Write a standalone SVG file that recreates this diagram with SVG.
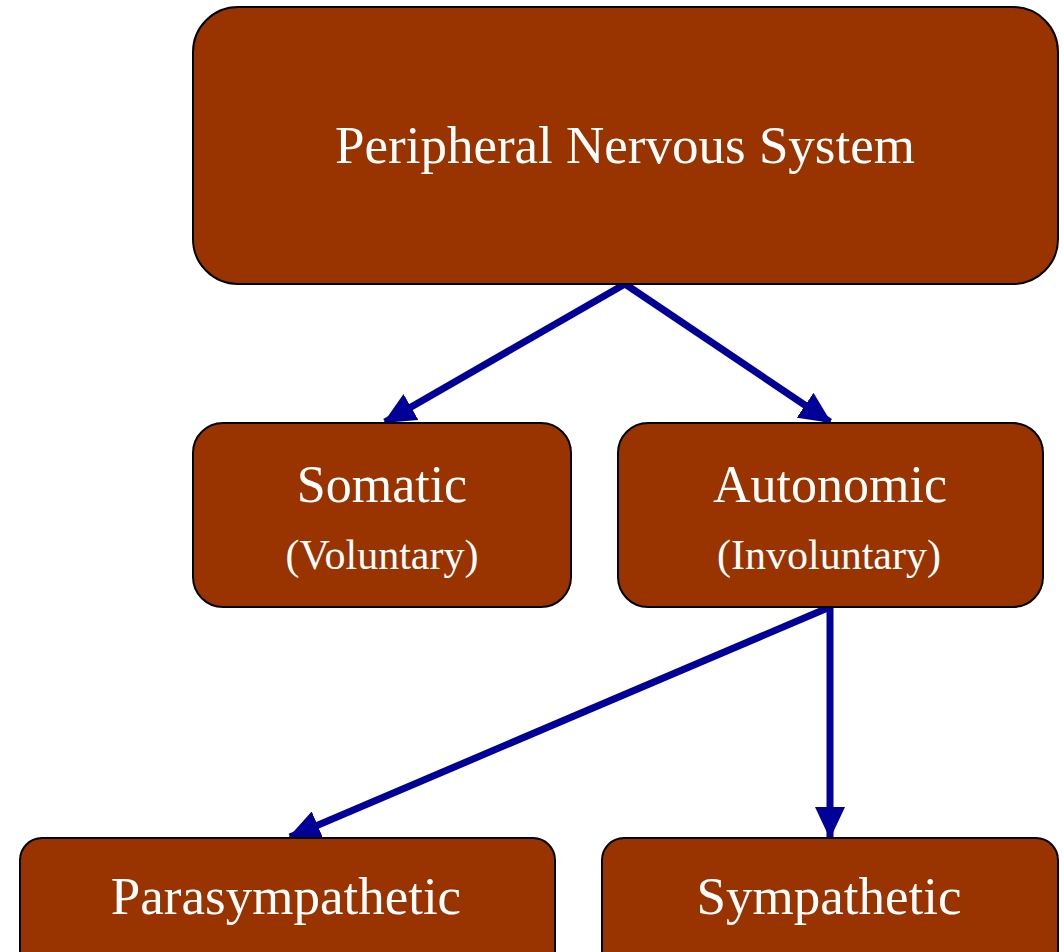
<svg xmlns="http://www.w3.org/2000/svg" width="1064" height="952" viewBox="0 0 1064 952">
<style>
.box{fill:#993300;stroke:#000;stroke-width:2}
.t{font-family:"Liberation Serif","Times New Roman",serif;fill:#fff;text-anchor:middle}
.c{stroke:#000099;stroke-width:7;fill:none}
</style>
<defs>
<marker id="ah" markerUnits="userSpaceOnUse" markerWidth="32" markerHeight="30" refX="30" refY="15" orient="auto">
<path d="M0,0 L32,15 L0,30 Z" fill="#000099"/>
</marker>
</defs>
<rect width="1064" height="952" fill="#fff"/>
<g id="connectors">
<line class="c" x1="625" y1="284" x2="385" y2="422" marker-end="url(#ah)"/>
<line class="c" x1="625" y1="284" x2="830" y2="422" marker-end="url(#ah)"/>
<line class="c" x1="830" y1="607" x2="290" y2="837" marker-end="url(#ah)"/>
<line class="c" x1="830" y1="607" x2="830" y2="837" marker-end="url(#ah)"/>
</g>
<g id="pns">
<rect class="box" x="193" y="7" width="865" height="277" rx="45" ry="45"/>
<text class="t" x="625" y="163" font-size="53">Peripheral Nervous System</text>
</g>
<g id="somatic">
<rect class="box" x="193" y="423" width="378" height="184" rx="30" ry="30"/>
<text class="t" x="382" y="502" font-size="52">Somatic</text>
<text class="t" x="382" y="569" font-size="42">(Voluntary)</text>
</g>
<g id="autonomic">
<rect class="box" x="618" y="423" width="425" height="184" rx="30" ry="30"/>
<text class="t" x="830" y="502" font-size="52">Autonomic</text>
<text class="t" x="829" y="569" font-size="42">(Involuntary)</text>
</g>
<g id="parasympathetic">
<rect class="box" x="20" y="838" width="535" height="140" rx="22" ry="22"/>
<text class="t" x="286" y="914" font-size="53">Parasympathetic</text>
</g>
<g id="sympathetic">
<rect class="box" x="602" y="838" width="456" height="140" rx="22" ry="22"/>
<text class="t" x="829" y="914" font-size="53">Sympathetic</text>
</g>
</svg>
